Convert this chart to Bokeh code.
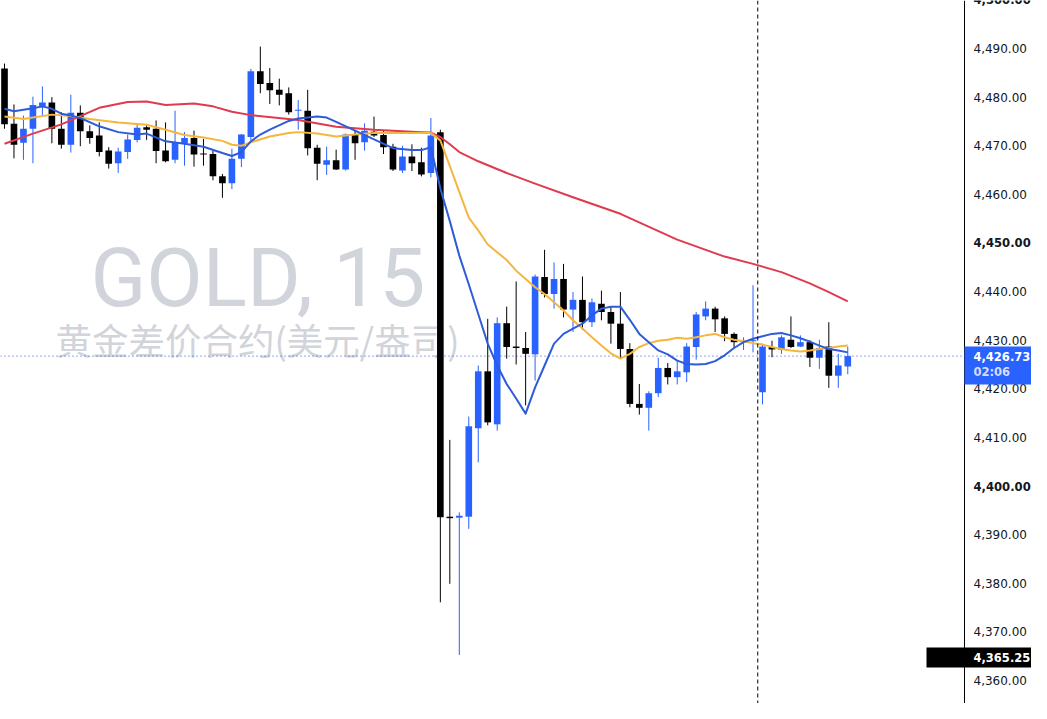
from bokeh.plotting import figure
from bokeh.models import Range1d, Span, Label, ColumnDataSource
from bokeh.core.properties import value
from bokeh.embed import file_html
from bokeh.resources import INLINE

# ---------------- data (GOLD, 15 min candles) ----------------
opens = [
    4485.9, 4474.5, 4470.6, 4473.5, 4477.9, 4478.9, 4473.5, 4470.2, 4476.8, 4473.0,
    4472.1, 4469.0, 4466.4, 4468.7, 4471.2, 4473.8, 4473.5, 4469.0, 4467.1, 4470.5,
    4471.6, 4468.4, 4468.3, 4463.7, 4462.3, 4467.3, 4471.8, 4485.3, 4482.9, 4481.5,
    4480.8, 4477.2, 4477.2, 4469.6, 4466.1, 4467.0, 4465.1, 4472.3, 4470.7, 4472.9,
    4472.2, 4469.8, 4464.9, 4467.8, 4466.6, 4464.4, 4472.8, 4393.7, 4393.5, 4393.7,
    4411.9, 4423.6, 4412.7, 4433.5, 4428.7, 4428.4, 4427.1, 4443.0, 4439.5, 4442.6,
    4436.3, 4438.3, 4433.7, 4437.5, 4435.8, 4433.4, 4428.2, 4416.9, 4416.1, 4419.1,
    4424.3, 4422.4, 4423.4, 4428.6, 4434.9, 4436.5, 4434.5, 4431.3, 4429.6, 4429.8,
    4419.3, 4428.6, 4428.0, 4430.1, 4428.7, 4429.6, 4426.4, 4428.7, 4422.7, 4424.6,
]
highs = [
    4486.9, 4478.5, 4476.2, 4480.1, 4482.2, 4480.0, 4476.9, 4480.5, 4478.3, 4474.2,
    4474.8, 4469.7, 4469.6, 4472.3, 4474.6, 4474.4, 4475.2, 4474.8, 4477.2, 4472.8,
    4473.1, 4471.4, 4469.0, 4464.2, 4469.4, 4472.4, 4485.8, 4490.4, 4486.0, 4483.8,
    4482.0, 4479.4, 4481.5, 4470.2, 4469.8, 4469.2, 4472.5, 4473.1, 4474.6, 4476.0,
    4473.0, 4470.4, 4470.0, 4470.3, 4469.6, 4475.7, 4473.3, 4409.5, 4394.6, 4414.3,
    4424.8, 4434.4, 4434.7, 4436.9, 4442.1, 4431.7, 4443.5, 4448.6, 4446.0, 4445.7,
    4439.9, 4443.1, 4438.6, 4440.2, 4436.8, 4439.9, 4429.4, 4421.0, 4419.5, 4426.4,
    4425.3, 4425.7, 4429.4, 4435.8, 4438.0, 4436.9, 4434.9, 4431.6, 4430.6, 4441.3,
    4429.3, 4429.9, 4431.0, 4434.9, 4431.0, 4430.0, 4430.1, 4433.7, 4427.2, 4428.7,
]
lows = [
    4473.5, 4467.4, 4467.1, 4466.4, 4476.2, 4470.5, 4469.4, 4468.6, 4469.9, 4470.4,
    4467.8, 4465.3, 4464.4, 4467.3, 4470.7, 4471.2, 4466.4, 4466.6, 4466.4, 4465.9,
    4465.7, 4465.9, 4462.9, 4459.3, 4461.1, 4465.6, 4471.1, 4480.8, 4478.6, 4478.3,
    4476.4, 4473.3, 4468.0, 4462.9, 4464.0, 4465.0, 4464.9, 4467.1, 4469.0, 4471.8,
    4468.3, 4464.8, 4464.4, 4464.8, 4463.7, 4463.5, 4376.1, 4379.9, 4365.25, 4391.2,
    4404.9, 4412.5, 4411.4, 4426.2, 4425.0, 4416.6, 4421.7, 4438.8, 4436.5, 4434.7,
    4431.7, 4432.1, 4432.7, 4434.1, 4429.3, 4426.2, 4416.2, 4414.7, 4411.4, 4418.3,
    4420.9, 4420.9, 4421.4, 4426.0, 4434.1, 4431.7, 4429.8, 4428.4, 4428.0, 4427.5,
    4416.8, 4426.5, 4427.2, 4428.4, 4428.6, 4424.5, 4424.1, 4420.2, 4420.2, 4423.0,
]
closes = [
    4474.4, 4470.2, 4473.5, 4478.4, 4478.9, 4473.5, 4470.2, 4476.8, 4473.0, 4471.6,
    4468.7, 4466.3, 4468.8, 4471.3, 4473.7, 4473.3, 4468.9, 4466.8, 4470.6, 4471.6,
    4468.2, 4468.2, 4463.7, 4462.3, 4467.3, 4472.3, 4485.3, 4482.7, 4481.4, 4480.5,
    4476.9, 4477.4, 4469.5, 4466.3, 4467.0, 4465.1, 4472.3, 4470.5, 4473.1, 4472.1,
    4469.7, 4465.1, 4467.8, 4466.4, 4464.1, 4472.1, 4393.6, 4393.4, 4393.9, 4412.3,
    4423.6, 4413.1, 4433.5, 4428.6, 4428.4, 4427.2, 4443.1, 4439.5, 4442.6, 4436.3,
    4438.3, 4433.7, 4437.8, 4435.8, 4433.4, 4428.2, 4416.9, 4416.1, 4419.1, 4424.3,
    4422.4, 4423.6, 4428.7, 4435.3, 4436.5, 4434.3, 4431.3, 4429.6, 4429.9, 4430.0,
    4428.7, 4428.1, 4430.6, 4428.6, 4429.6, 4426.4, 4428.4, 4422.7, 4424.8, 4426.73,
]

# moving averages (candle index -> value)
fast_ma_idx = [1, 2, 4, 5, 6, 7, 8, 9, 11, 13,
               15, 16, 18, 20, 22, 24, 25, 26, 27, 28,
               29, 31, 32, 34, 35, 36, 38, 40, 42, 44,
               45, 46] + list(range(47, 91))
fast_ma = [4477.6, 4477.1, 4477.7, 4478.1, 4477.6, 4476.6, 4476.2, 4475.7, 4474.0, 4472.8,
           4472.3, 4472.5, 4470.9, 4470.4, 4469.8, 4468.5, 4467.9, 4468.7, 4470.9, 4472.3,
           4473.3, 4475.1, 4475.6, 4476.0, 4475.8, 4474.9, 4473.1, 4471.3, 4469.5, 4469.1,
           4469.1, 4469.7,
           4461.2, 4454.5, 4447.4, 4441.5, 4435.4, 4429.3, 4424.8, 4421.0, 4418.0, 4414.9,
           4420.3, 4424.8, 4429.3, 4431.3, 4432.4, 4433.4, 4435.1, 4436.5, 4436.9, 4436.9,
           4434.2, 4431.3, 4429.6, 4427.9, 4427.1, 4425.8, 4425.1, 4425.0, 4425.1, 4425.7,
           4426.9, 4428.4, 4429.6, 4430.3, 4430.8, 4431.3, 4431.5, 4431.0, 4430.4, 4429.7,
           4428.9, 4428.2, 4427.9, 4427.5]

mid_ma_idx = [1, 3, 4, 6, 8, 10, 13, 16, 18, 20,
              22, 24, 25, 26, 27, 29, 31, 32, 34, 36,
              38, 40, 43, 46] + list(range(47, 91))
mid_ma = [4476.0, 4475.5, 4475.8, 4476.4, 4476.1, 4475.5, 4474.8, 4474.3, 4473.3, 4472.2,
          4471.7, 4471.0, 4470.2, 4470.0, 4470.7, 4471.9, 4472.6, 4472.8, 4472.5, 4471.9,
          4472.3, 4472.6, 4472.6, 4472.6,
          4471.1, 4465.8, 4460.5, 4455.2, 4452.6, 4449.7, 4448.1, 4446.5, 4444.3, 4442.6,
          4440.9, 4439.5, 4437.8, 4436.1, 4434.1, 4432.4, 4430.6, 4428.9, 4427.3, 4426.2,
          4427.2, 4428.6, 4429.4, 4429.9, 4430.1, 4430.5, 4430.3, 4430.6, 4431.0, 4431.3,
          4430.6, 4430.1, 4429.8, 4429.4, 4429.1, 4428.6, 4428.2, 4427.9, 4427.7, 4427.9,
          4428.2, 4428.4, 4428.7, 4428.9]

slow_ma_idx = [1, 4, 7, 11, 14, 16, 18, 21, 23, 25,
               27, 32, 36, 40, 45, 46, 47, 48, 49, 51,
               54, 57, 61, 66, 72, 77, 80, 83, 86, 88,
               90]
slow_ma = [4470.4, 4472.5, 4474.4, 4477.8, 4479.0, 4479.1, 4478.4, 4478.7, 4478.1, 4477.0,
           4476.3, 4475.3, 4473.9, 4473.3, 4472.8, 4472.7, 4471.8, 4470.3, 4468.7, 4466.8,
           4464.4, 4462.2, 4459.4, 4456.0, 4450.7, 4447.2, 4445.7, 4444.0, 4441.7, 4439.9,
           4438.0]

price_ticks = [4360, 4370, 4380, 4390, 4410, 4420, 4430, 4440, 4460, 4470, 4480, 4490]
bold_ticks = [4400, 4450, 4500]
last_price = 4426.73
last_timer = "02:06"
session_low = 4365.25
session_break = 80.5
title_text = "GOLD, 15"
subtitle_text = "黄金差价合约(美元/盎司)"

# ---------------- layout / styling ----------------
W, H = 1031, 703
BAR_PX = 9.475          # pixels per candle
FIRST_PX = 4.0          # pixel centre of the first candle
UNIT_PX = 4.862         # pixels per price unit
REF_PRICE, REF_PX = 4490.0, 48.0


def px_x(px):
    return 1 + (px - FIRST_PX) / BAR_PX


def dpx(d):
    return d / UNIT_PX


UP = "#2962FF"
DOWN = "#000000"
FAST_C = "#2E5CD9"
MID_C = "#F4B63F"
SLOW_C = "#E03A4F"
WATERMARK = "#D1D4DA"
AXIS_TXT = "#131722"
SCALE_FONT = value("DejaVu Sans")

AXIS_X = px_x(964)
LABEL_X = px_x(973)

x = list(range(1, len(opens) + 1))
colors = [UP if c >= o else DOWN for o, c in zip(opens, closes)]
bottoms = [min(o, c) for o, c in zip(opens, closes)]
tops = [max(max(o, c), min(o, c) + 0.22) for o, c in zip(opens, closes)]
src = ColumnDataSource(dict(x=x, high=highs, low=lows, top=tops, bottom=bottoms, color=colors))

p = figure(frame_width=W, frame_height=H,
           x_range=Range1d(px_x(0), px_x(W)),
           y_range=Range1d(REF_PRICE - dpx(H - REF_PX), REF_PRICE + dpx(REF_PX)),
           output_backend="svg", toolbar_location=None,
           x_axis_location=None, y_axis_location=None,
           min_border=0, background_fill_color="white", border_fill_color="white",
           outline_line_color=None)
p.grid.visible = False

# watermark (behind candles)
p.add_layout(Label(x=90, y=426, x_units="screen", y_units="screen", text=title_text,
                   text_font="Roboto", text_font_size="82px", text_color=WATERMARK,
                   text_baseline="alphabetic", text_align="left", level="underlay"))
p.add_layout(Label(x=55, y=364, x_units="screen", y_units="screen", text=subtitle_text,
                   text_font="Noto Sans CJK SC", text_font_size="36.5px", text_color=WATERMARK,
                   text_baseline="alphabetic", text_align="left", level="underlay"))

# last price dotted line (stops at the price scale)
p.segment(x0=[px_x(0)], y0=[last_price], x1=[AXIS_X], y1=[last_price],
          line_color="#2A4FC0", line_dash="1 3", line_width=1)

# candles
p.segment(x0="x", y0="low", x1="x", y1="high", source=src, line_color="color", line_width=1)
p.vbar(x="x", width=0.7, top="top", bottom="bottom", source=src,
       fill_color="color", line_color=None)

# moving averages
p.line(slow_ma_idx, slow_ma, line_color=SLOW_C, line_width=2, line_join="round")
p.line(mid_ma_idx, mid_ma, line_color=MID_C, line_width=2, line_join="round")
p.line(fast_ma_idx, fast_ma, line_color=FAST_C, line_width=2, line_join="round")

# session separator
p.add_layout(Span(location=session_break, dimension="height", line_color="#000000",
                  line_dash="4 3", line_width=1))

# price scale on the right
p.segment(x0=[AXIS_X], y0=[p.y_range.start], x1=[AXIS_X], y1=[p.y_range.end],
          line_color="#000000", line_width=1)
p.text(x=[LABEL_X] * len(price_ticks), y=price_ticks,
       text=[f"{t:,.2f}" for t in price_ticks],
       text_font=SCALE_FONT, text_font_size="12px", text_color=AXIS_TXT,
       text_baseline="middle", text_align="left")
p.text(x=[LABEL_X] * len(bold_ticks), y=bold_ticks,
       text=[f"{t:,.2f}" for t in bold_ticks],
       text_font=SCALE_FONT, text_font_size="11.6px", text_font_style="bold",
       text_color=AXIS_TXT, text_baseline="middle", text_align="left")

# last-price tag
p.quad(left=[AXIS_X], right=[px_x(W + 10)],
       top=[last_price + dpx(9.6)], bottom=[last_price - dpx(28.4)],
       fill_color=UP, line_color=None)
p.text(x=[LABEL_X], y=[last_price], text=[f"{last_price:,.2f}"],
       text_font=SCALE_FONT, text_font_size="11.5px", text_font_style="bold",
       text_color="white", text_baseline="middle", text_align="left")
p.text(x=[LABEL_X], y=[last_price - dpx(15.5)], text=[last_timer],
       text_font=SCALE_FONT, text_font_size="11.5px", text_font_style="bold",
       text_color="#D3DDFF", text_baseline="middle", text_align="left")

# session-low tag
p.quad(left=[px_x(926)], right=[px_x(W + 10)],
       top=[session_low + dpx(7.5)], bottom=[session_low - dpx(12.5)],
       fill_color="#000000", line_color=None)
p.text(x=[LABEL_X], y=[session_low - dpx(2.5)], text=[f"{session_low:,.2f}"],
       text_font=SCALE_FONT, text_font_size="11.5px", text_font_style="bold",
       text_color="white", text_baseline="middle", text_align="left")

open("out.html", "w").write(file_html(p, INLINE))
